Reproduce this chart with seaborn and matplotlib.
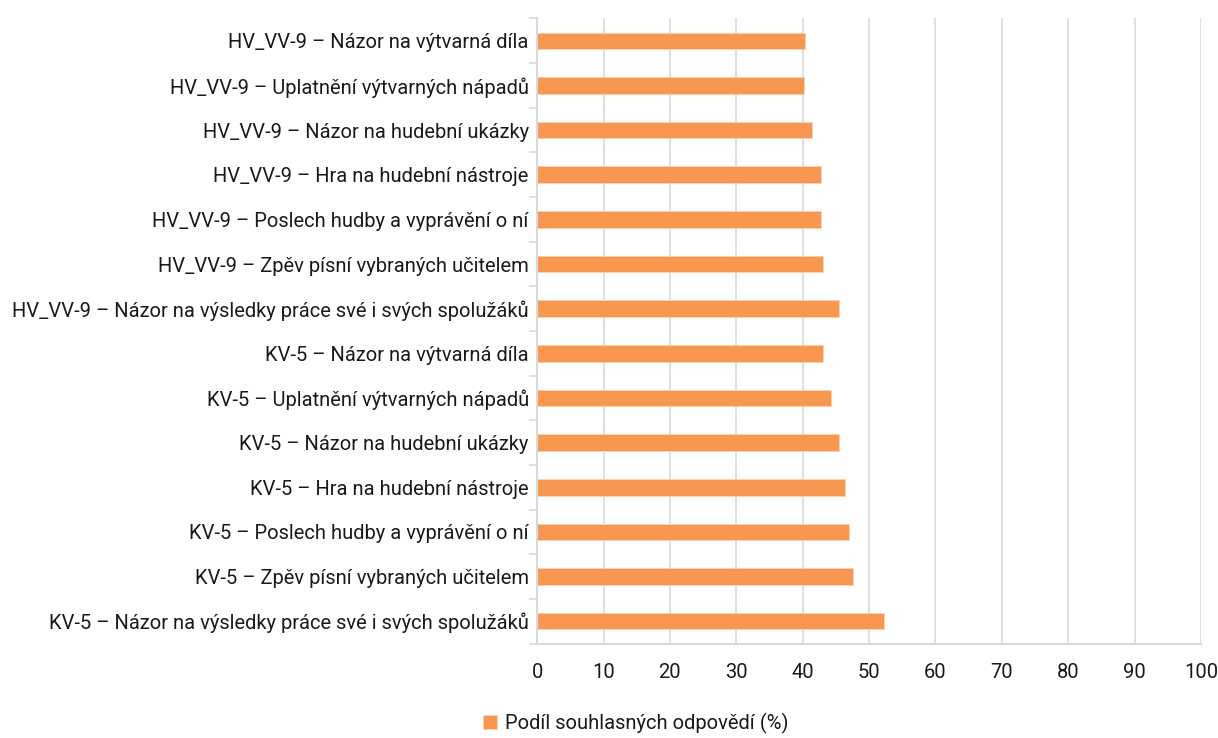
import matplotlib
matplotlib.use("Agg")
import matplotlib.pyplot as plt
import seaborn as sns
import pandas as pd
import numpy as np

categories = [
    "HV_VV-9 – Názor na výtvarná díla",
    "HV_VV-9 – Uplatnění výtvarných nápadů",
    "HV_VV-9 – Názor na hudební ukázky",
    "HV_VV-9 – Hra na hudební nástroje",
    "HV_VV-9 – Poslech hudby a vyprávění o ní",
    "HV_VV-9 – Zpěv písní vybraných učitelem",
    "HV_VV-9 – Názor na výsledky práce své i svých spolužáků",
    "KV-5 – Názor na výtvarná díla",
    "KV-5 – Uplatnění výtvarných nápadů",
    "KV-5 – Názor na hudební ukázky",
    "KV-5 – Hra na hudební nástroje",
    "KV-5 – Poslech hudby a vyprávění o ní",
    "KV-5 – Zpěv písní vybraných učitelem",
    "KV-5 – Názor na výsledky práce své i svých spolužáků",
]
values = [40.4, 40.2, 41.4, 42.8, 42.8, 43.1, 45.5,
          43.1, 44.3, 45.5, 46.4, 47.0, 47.6, 52.3]
series_name = "Podíl souhlasných odpovědí (%)"
x_ticks = list(range(0, 101, 10))

df = pd.DataFrame({"kategorie": categories, "hodnota": values})

sns.set_theme(style="white")
plt.rcParams['font.family'] = ['Liberation Sans Narrow', 'Roboto', 'DejaVu Sans']

bar_color = "#F79750"
grid_color = "#D9D9D9"
text_color = "#1a1a1a"
fs = 14.5

fig = plt.figure(figsize=(12.18, 7.38), dpi=100)
ax = fig.add_axes([0.441, 0.128, 0.545, 0.847])

sns.barplot(data=df, x="hodnota", y="kategorie", color=bar_color, width=0.37,
            saturation=1, ax=ax, label=series_name, edgecolor="#FBD3B5", linewidth=0.6)

ax.set_xlim(0, 100)
ax.set_xticks(x_ticks)
ax.set_xticklabels([str(t) for t in x_ticks], fontsize=fs, color=text_color)
ax.set_xlabel("")
ax.set_ylabel("")
ax.tick_params(axis="y", labelsize=fs, labelcolor=text_color, length=0, pad=6)
ax.tick_params(axis="x", length=6, width=1.2, color=grid_color, pad=8, direction="out")

# boundary ticks between categories on the y axis
n = len(categories)
ax.set_yticks(np.arange(-0.5, n, 1.0), minor=True)
ax.tick_params(axis="y", which="minor", length=6, width=1.2, color=grid_color, left=True)

ax.grid(axis="x", color=grid_color, linewidth=1.2)
ax.set_axisbelow(True)
for side in ["top", "right"]:
    ax.spines[side].set_visible(False)
for side in ["left", "bottom"]:
    ax.spines[side].set_color(grid_color)
    ax.spines[side].set_linewidth(1.5)

if ax.legend_:
    ax.legend_.remove()
handles, labels = ax.get_legend_handles_labels()
fig.legend(handles[:1], labels[:1], loc="center", bbox_to_anchor=(0.522, 0.02),
           frameon=False, fontsize=fs, handlelength=0.7, handleheight=0.7,
           handletextpad=0.4, labelcolor=text_color)

fig.savefig("out.png", dpi=100)
